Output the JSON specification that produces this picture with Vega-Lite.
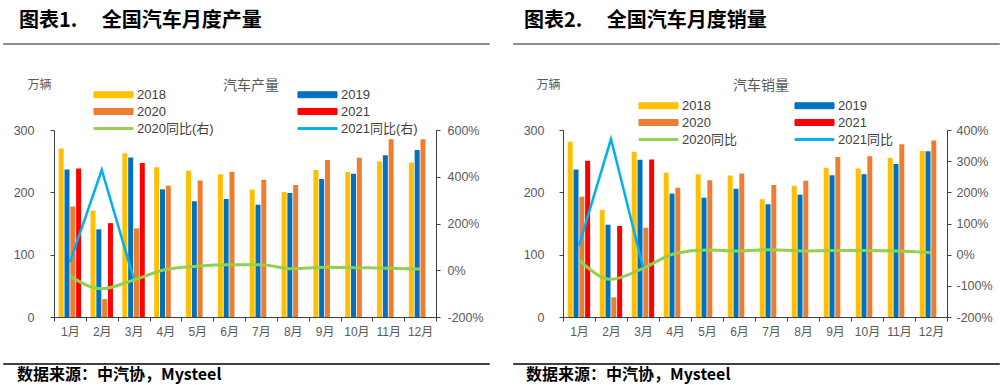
{
  "$schema": "https://vega.github.io/schema/vega-lite/v6.json",
  "background": "white",
  "padding": {"left": 0, "top": 10, "right": 0, "bottom": 0},
  "config": {
    "view": {"stroke": null},
    "axis": {"domainColor": "#404040", "tickColor": "#404040", "labelColor": "#595959", "labelFontSize": 12.5, "labelFont": "Liberation Sans, Noto Sans CJK SC", "grid": false, "tickSize": 4, "domainWidth": 1, "tickWidth": 1},
    "legend": {"labelFont": "Liberation Sans, Noto Sans CJK SC", "labelFontSize": 13, "labelColor": "#404040"}
  },
  "datasets": {
    "prod_bars": [
      {"month": "1月", "year": "2018", "value": 270.4}, {"month": "2月", "year": "2018", "value": 170.6}, {"month": "3月", "year": "2018", "value": 262.8}, {"month": "4月", "year": "2018", "value": 240.1}, {"month": "5月", "year": "2018", "value": 234.6}, {"month": "6月", "year": "2018", "value": 229.0}, {"month": "7月", "year": "2018", "value": 204.6}, {"month": "8月", "year": "2018", "value": 200.5}, {"month": "9月", "year": "2018", "value": 235.8}, {"month": "10月", "year": "2018", "value": 232.6}, {"month": "11月", "year": "2018", "value": 249.6}, {"month": "12月", "year": "2018", "value": 248.0},
      {"month": "1月", "year": "2019", "value": 236.7}, {"month": "2月", "year": "2019", "value": 140.7}, {"month": "3月", "year": "2019", "value": 255.7}, {"month": "4月", "year": "2019", "value": 204.8}, {"month": "5月", "year": "2019", "value": 185.6}, {"month": "6月", "year": "2019", "value": 189.3}, {"month": "7月", "year": "2019", "value": 180.2}, {"month": "8月", "year": "2019", "value": 199.0}, {"month": "9月", "year": "2019", "value": 221.4}, {"month": "10月", "year": "2019", "value": 230.0}, {"month": "11月", "year": "2019", "value": 259.5}, {"month": "12月", "year": "2019", "value": 268.0},
      {"month": "1月", "year": "2020", "value": 177.2}, {"month": "2月", "year": "2020", "value": 28.7}, {"month": "3月", "year": "2020", "value": 142.2}, {"month": "4月", "year": "2020", "value": 210.5}, {"month": "5月", "year": "2020", "value": 219.0}, {"month": "6月", "year": "2020", "value": 233.0}, {"month": "7月", "year": "2020", "value": 220.0}, {"month": "8月", "year": "2020", "value": 211.8}, {"month": "9月", "year": "2020", "value": 252.0}, {"month": "10月", "year": "2020", "value": 255.3}, {"month": "11月", "year": "2020", "value": 285.0}, {"month": "12月", "year": "2020", "value": 285.0},
      {"month": "1月", "year": "2021", "value": 238.2}, {"month": "2月", "year": "2021", "value": 150.6}, {"month": "3月", "year": "2021", "value": 247.0}
    ],
    "prod_yoy": [
      {"month": "1月", "series": "2020同比(右)", "yoy": -25}, {"month": "2月", "series": "2020同比(右)", "yoy": -79}, {"month": "3月", "series": "2020同比(右)", "yoy": -42}, {"month": "4月", "series": "2020同比(右)", "yoy": 3}, {"month": "5月", "series": "2020同比(右)", "yoy": 17}, {"month": "6月", "series": "2020同比(右)", "yoy": 23}, {"month": "7月", "series": "2020同比(右)", "yoy": 23}, {"month": "8月", "series": "2020同比(右)", "yoy": 6}, {"month": "9月", "series": "2020同比(右)", "yoy": 13}, {"month": "10月", "series": "2020同比(右)", "yoy": 11}, {"month": "11月", "series": "2020同比(右)", "yoy": 9}, {"month": "12月", "series": "2020同比(右)", "yoy": 5},
      {"month": "1月", "series": "2021同比(右)", "yoy": 34}, {"month": "2月", "series": "2021同比(右)", "yoy": 429}, {"month": "3月", "series": "2021同比(右)", "yoy": -34}
    ],
    "sales_bars": [
      {"month": "1月", "year": "2018", "value": 281.0}, {"month": "2月", "year": "2018", "value": 171.7}, {"month": "3月", "year": "2018", "value": 265.3}, {"month": "4月", "year": "2018", "value": 231.5}, {"month": "5月", "year": "2018", "value": 229.0}, {"month": "6月", "year": "2018", "value": 227.2}, {"month": "7月", "year": "2018", "value": 189.0}, {"month": "8月", "year": "2018", "value": 210.5}, {"month": "9月", "year": "2018", "value": 239.5}, {"month": "10月", "year": "2018", "value": 238.2}, {"month": "11月", "year": "2018", "value": 255.0}, {"month": "12月", "year": "2018", "value": 266.2},
      {"month": "1月", "year": "2019", "value": 236.8}, {"month": "2月", "year": "2019", "value": 148.1}, {"month": "3月", "year": "2019", "value": 252.3}, {"month": "4月", "year": "2019", "value": 198.0}, {"month": "5月", "year": "2019", "value": 191.4}, {"month": "6月", "year": "2019", "value": 205.6}, {"month": "7月", "year": "2019", "value": 180.9}, {"month": "8月", "year": "2019", "value": 196.2}, {"month": "9月", "year": "2019", "value": 227.3}, {"month": "10月", "year": "2019", "value": 229.2}, {"month": "11月", "year": "2019", "value": 245.5}, {"month": "12月", "year": "2019", "value": 265.8},
      {"month": "1月", "year": "2020", "value": 193.0}, {"month": "2月", "year": "2020", "value": 31.5}, {"month": "3月", "year": "2020", "value": 143.2}, {"month": "4月", "year": "2020", "value": 207.4}, {"month": "5月", "year": "2020", "value": 219.2}, {"month": "6月", "year": "2020", "value": 230.1}, {"month": "7月", "year": "2020", "value": 211.8}, {"month": "8月", "year": "2020", "value": 218.7}, {"month": "9月", "year": "2020", "value": 256.8}, {"month": "10月", "year": "2020", "value": 257.8}, {"month": "11月", "year": "2020", "value": 277.3}, {"month": "12月", "year": "2020", "value": 283.3},
      {"month": "1月", "year": "2021", "value": 250.7}, {"month": "2月", "year": "2021", "value": 146.0}, {"month": "3月", "year": "2021", "value": 252.6}
    ],
    "sales_yoy": [
      {"month": "1月", "series": "2020同比", "yoy": -17}, {"month": "2月", "series": "2020同比", "yoy": -79}, {"month": "3月", "series": "2020同比", "yoy": -44}, {"month": "4月", "series": "2020同比", "yoy": 4}, {"month": "5月", "series": "2020同比", "yoy": 15}, {"month": "6月", "series": "2020同比", "yoy": 12}, {"month": "7月", "series": "2020同比", "yoy": 16}, {"month": "8月", "series": "2020同比", "yoy": 12}, {"month": "9月", "series": "2020同比", "yoy": 13}, {"month": "10月", "series": "2020同比", "yoy": 13}, {"month": "11月", "series": "2020同比", "yoy": 12}, {"month": "12月", "series": "2020同比", "yoy": 6},
      {"month": "1月", "series": "2021同比", "yoy": 29}, {"month": "2月", "series": "2021同比", "yoy": 371}, {"month": "3月", "series": "2021同比", "yoy": -40}
    ]
  },
  "spacing": 31,
  "vconcat": [
    {
      "spacing": 22,
      "hconcat": [
        {"width": 486, "height": 1, "data": {"values": [{"k": 1}]}, "mark": {"type": "point", "opacity": 0}, "encoding": {}, "view": {"stroke": "#8C8C8C", "strokeWidth": 1},
         "title": {"text": "图表1.　 全国汽车月度产量", "anchor": "start", "fontSize": 20, "fontWeight": "bold", "font": "Noto Sans CJK SC", "color": "#000000", "offset": 10, "dx": 16}},
        {"width": 486, "height": 1, "data": {"values": [{"k": 1}]}, "mark": {"type": "point", "opacity": 0}, "encoding": {}, "view": {"stroke": "#8C8C8C", "strokeWidth": 1},
         "title": {"text": "图表2.　 全国汽车月度销量", "anchor": "start", "fontSize": 20, "fontWeight": "bold", "font": "Noto Sans CJK SC", "color": "#000000", "offset": 10, "dx": 11}}
      ]
    },
    {
      "spacing": 23,
      "vconcat": [
        {
          "spacing": 6,
          "resolve": {"scale": {"color": "independent"}, "legend": {"color": "independent"}},
          "hconcat": [
            {"width": 1, "height": 1, "data": {"values": [{"k": 1}]}, "mark": {"type": "point", "opacity": 0}, "encoding": {}},
            {
              "spacing": 39,
              "resolve": {"scale": {"color": "independent"}, "legend": {"color": "independent"}},
              "hconcat": [
                {
                  "width": 382, "height": 187,
                  "title": {"text": "汽车产量", "fontSize": 14, "fontWeight": "normal", "font": "Noto Sans CJK SC", "color": "#595959", "offset": -15, "dx": 6},
                  "resolve": {"scale": {"y": "independent"}},
                  "layer": [
                    {
                      "data": {"name": "prod_bars"},
                      "mark": {"type": "bar"},
                      "encoding": {
                        "x": {"field": "month", "type": "nominal", "scale": {"domain": ["1月","2月","3月","4月","5月","6月","7月","8月","9月","10月","11月","12月"], "paddingInner": 0, "paddingOuter": 0}, "axis": {"title": null, "labelAngle": 0, "tickBand": "extent", "labelPadding": 5, "labelFontSize": 12}},
                        "xOffset": {"field": "year", "type": "nominal", "scale": {"paddingInner": 0.14, "paddingOuter": 0.81}},
                        "y": {"field": "value", "type": "quantitative", "scale": {"domain": [0, 300]}, "axis": {"values": [0, 100, 200, 300], "labelPadding": 16, "title": "万辆", "titleAngle": 0, "titleX": -15, "titleY": -46, "titleAlign": "center", "titleBaseline": "middle", "titleFontSize": 12, "titleFontWeight": "normal", "titleColor": "#595959", "titleFont": "Noto Sans CJK SC"}},
                        "color": {"field": "year", "type": "nominal",
                          "scale": {"domain": ["2018","2019","2020","2021","2020同比(右)","2021同比(右)"], "range": ["#FFC000","#0070C0","#ED7D31","#FF0000","#92D050","#00B0F0"]},
                          "legend": {"orient": "none", "legendX": 39, "legendY": -45, "direction": "horizontal", "columns": 2, "columnPadding": 81, "rowPadding": 0, "title": null, "symbolType": "M-2.17,-0.33H2.17V0.33H-2.17Z", "symbolSize": 324, "symbolStrokeWidth": 1, "symbolOffset": 11, "labelOffset": 14,
                            "encode": {"symbols": {"update": {"shape": {"signal": "indexof(datum.value, '同比') >= 0 ? 'M-2.17,-0.1H2.17V0.1H-2.17Z' : 'M-2.17,-0.33H2.17V0.33H-2.17Z'"}}}}}
                        }
                      }
                    },
                    {
                      "data": {"name": "prod_yoy"},
                      "transform": [{"filter": "datum.series == '2020同比(右)'"}],
                      "mark": {"type": "line", "interpolate": "monotone", "strokeWidth": 3},
                      "encoding": {
                        "x": {"field": "month", "type": "nominal"},
                        "y": {"field": "yoy", "type": "quantitative", "scale": {"domain": [-200, 600]}, "axis": {"orient": "right", "values": [-200, 0, 200, 400, 600], "labelExpr": "datum.value + '%'", "labelPadding": 7, "title": null}},
                        "color": {"field": "series", "type": "nominal"}
                      }
                    },
                    {
                      "data": {"name": "prod_yoy"},
                      "transform": [{"filter": "datum.series == '2021同比(右)'"}],
                      "mark": {"type": "line", "strokeWidth": 2.5},
                      "encoding": {
                        "x": {"field": "month", "type": "nominal"},
                        "y": {"field": "yoy", "type": "quantitative", "scale": {"domain": [-200, 600]}, "axis": null},
                        "color": {"field": "series", "type": "nominal"}
                      }
                    }
                  ]
                },
                {
                  "width": 384, "height": 187,
                  "title": {"text": "汽车销量", "fontSize": 14, "fontWeight": "normal", "font": "Noto Sans CJK SC", "color": "#595959", "offset": -15, "dx": 6},
                  "resolve": {"scale": {"y": "independent"}},
                  "layer": [
                    {
                      "data": {"name": "sales_bars"},
                      "mark": {"type": "bar"},
                      "encoding": {
                        "x": {"field": "month", "type": "nominal", "scale": {"domain": ["1月","2月","3月","4月","5月","6月","7月","8月","9月","10月","11月","12月"], "paddingInner": 0, "paddingOuter": 0}, "axis": {"title": null, "labelAngle": 0, "tickBand": "extent", "labelPadding": 5, "labelFontSize": 12}},
                        "xOffset": {"field": "year", "type": "nominal", "scale": {"paddingInner": 0.14, "paddingOuter": 0.81}},
                        "y": {"field": "value", "type": "quantitative", "scale": {"domain": [0, 300]}, "axis": {"values": [0, 100, 200, 300], "labelPadding": 15, "title": "万辆", "titleAngle": 0, "titleX": -15, "titleY": -46, "titleAlign": "center", "titleBaseline": "middle", "titleFontSize": 12, "titleFontWeight": "normal", "titleColor": "#595959", "titleFont": "Noto Sans CJK SC"}},
                        "color": {"field": "year", "type": "nominal",
                          "scale": {"domain": ["2018","2019","2020","2021","2020同比","2021同比"], "range": ["#FFC000","#0070C0","#ED7D31","#FF0000","#92D050","#00B0F0"]},
                          "legend": {"orient": "none", "legendX": 75, "legendY": -34, "direction": "horizontal", "columns": 2, "columnPadding": 55, "rowPadding": 0, "title": null, "symbolType": "M-2.17,-0.33H2.17V0.33H-2.17Z", "symbolSize": 324, "symbolStrokeWidth": 1, "symbolOffset": 11, "labelOffset": 14,
                            "encode": {"symbols": {"update": {"shape": {"signal": "indexof(datum.value, '同比') >= 0 ? 'M-2.17,-0.1H2.17V0.1H-2.17Z' : 'M-2.17,-0.33H2.17V0.33H-2.17Z'"}}}}}
                        }
                      }
                    },
                    {
                      "data": {"name": "sales_yoy"},
                      "transform": [{"filter": "datum.series == '2020同比'"}],
                      "mark": {"type": "line", "interpolate": "monotone", "strokeWidth": 3},
                      "encoding": {
                        "x": {"field": "month", "type": "nominal"},
                        "y": {"field": "yoy", "type": "quantitative", "scale": {"domain": [-200, 400]}, "axis": {"orient": "right", "values": [-200, -100, 0, 100, 200, 300, 400], "labelExpr": "datum.value + '%'", "labelPadding": 5, "title": null}},
                        "color": {"field": "series", "type": "nominal"}
                      }
                    },
                    {
                      "data": {"name": "sales_yoy"},
                      "transform": [{"filter": "datum.series == '2021同比'"}],
                      "mark": {"type": "line", "strokeWidth": 2.5},
                      "encoding": {
                        "x": {"field": "month", "type": "nominal"},
                        "y": {"field": "yoy", "type": "quantitative", "scale": {"domain": [-200, 400]}, "axis": null},
                        "color": {"field": "series", "type": "nominal"}
                      }
                    }
                  ]
                }
              ]
            }
          ]
        },
        {
          "spacing": 22,
          "hconcat": [
            {"width": 486, "height": 1, "data": {"values": [{"k": 1}]}, "mark": {"type": "point", "opacity": 0}, "encoding": {}, "view": {"stroke": "#404040", "strokeWidth": 1},
             "title": {"text": "数据来源：中汽协，Mysteel", "orient": "bottom", "anchor": "start", "fontSize": 16, "fontWeight": "bold", "font": "Noto Sans CJK SC", "color": "#000000", "offset": 1, "dx": 14}},
            {"width": 486, "height": 1, "data": {"values": [{"k": 1}]}, "mark": {"type": "point", "opacity": 0}, "encoding": {}, "view": {"stroke": "#404040", "strokeWidth": 1},
             "title": {"text": "数据来源：中汽协，Mysteel", "orient": "bottom", "anchor": "start", "fontSize": 16, "fontWeight": "bold", "font": "Noto Sans CJK SC", "color": "#000000", "offset": 1, "dx": 13}}
          ]
        }
      ]
    }
  ]
}
